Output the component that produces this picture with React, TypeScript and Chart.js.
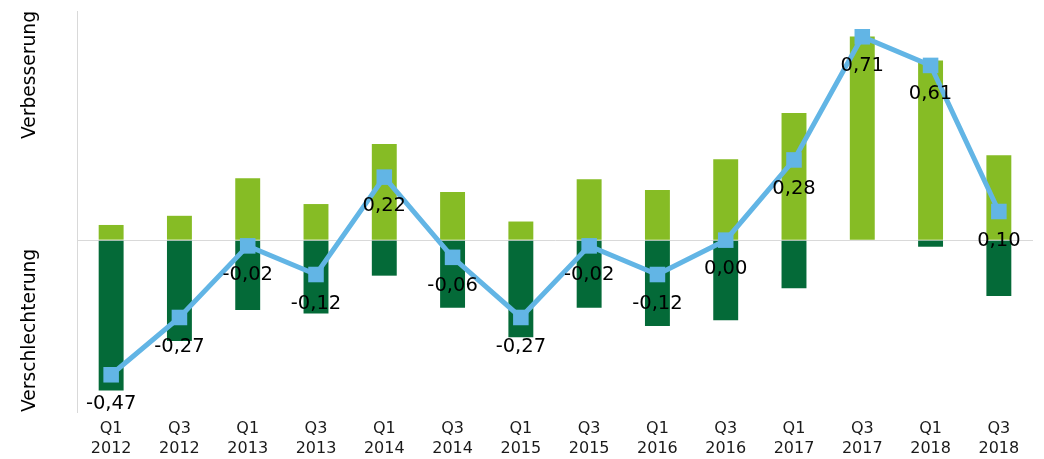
import React, { useEffect, useRef } from "react";
import { Chart, registerables } from "chart.js";

Chart.register(...registerables);

const quarters = ["Q1", "Q3", "Q1", "Q3", "Q1", "Q3", "Q1", "Q3", "Q1", "Q3", "Q1", "Q3", "Q1", "Q3"];
const years = ["2012", "2012", "2013", "2013", "2014", "2014", "2015", "2015", "2016", "2016", "2017", "2017", "2018", "2018"];
const improvement = [0.053, 0.085, 0.216, 0.126, 0.336, 0.168, 0.065, 0.213, 0.175, 0.282, 0.444, 0.711, 0.627, 0.296];
const deterioration = [-0.525, -0.352, -0.244, -0.256, -0.124, -0.236, -0.339, -0.236, -0.3, -0.28, -0.168, 0, -0.023, -0.195];
const netBalance = [-0.47, -0.27, -0.02, -0.12, 0.22, -0.06, -0.27, -0.02, -0.12, 0.0, 0.28, 0.71, 0.61, 0.1];
const axisTitleTop = "Verbesserung";
const axisTitleBottom = "Verschlechterung";

const FONT = "'DejaVu Sans', Verdana, sans-serif";

const overlayPlugin = {
  id: "overlay",
  afterDatasetsDraw(chart: any) {
    const ctx = chart.ctx;
    const meta = chart.getDatasetMeta(0);
    ctx.save();
    ctx.font = `19.5px ${FONT}`;
    ctx.fillStyle = "#000000";
    ctx.textAlign = "center";
    ctx.textBaseline = "middle";
    meta.data.forEach((pt: any, i: number) => {
      const v = netBalance[i];
      const txt = v.toFixed(2).replace(".", ",");
      ctx.fillText(txt, pt.x, pt.y + 29);
    });
    ctx.restore();
  },
  afterDraw(chart: any) {
    const ctx = chart.ctx;
    const area = chart.chartArea;
    const draw = (text: string, y: number, align: CanvasTextAlign) => {
      ctx.save();
      ctx.font = `18.7px ${FONT}`;
      ctx.fillStyle = "#000000";
      ctx.textBaseline = "middle";
      ctx.translate(30, y);
      ctx.rotate(-Math.PI / 2);
      ctx.textAlign = align;
      ctx.fillText(text, 0, 0);
      ctx.restore();
    };
    draw(axisTitleTop, area.top, "right");
    draw(axisTitleBottom, area.bottom, "left");
  },
};

export default function App() {
  const ref = useRef<HTMLCanvasElement>(null);
  useEffect(() => {
    document.body.style.margin = "0";
    const labels = quarters.map((q, i) => [q, years[i]]);
    const chart = new Chart(ref.current as HTMLCanvasElement, {
      type: "bar",
      data: {
        labels,
        datasets: [
          {
            type: "line",
            label: "Saldo",
            data: netBalance,
            borderColor: "#62B5E5",
            backgroundColor: "#62B5E5",
            borderWidth: 5,
            pointStyle: "rect",
            pointRadius: 11,
            pointBorderWidth: 0,
            stack: "line",
            order: 0,
            tension: 0,
          } as any,
          {
            type: "bar",
            label: "Verbesserung",
            data: improvement,
            backgroundColor: "#86BC25",
            stack: "bars",
            order: 1,
            barPercentage: 0.365,
            categoryPercentage: 1,
          },
          {
            type: "bar",
            label: "Verschlechterung",
            data: deterioration,
            backgroundColor: "#046A38",
            stack: "bars",
            order: 1,
            barPercentage: 0.365,
            categoryPercentage: 1,
          },
        ],
      },
      options: {
        animation: false,
        responsive: false,
        layout: { padding: { left: 77, top: 10, right: 8, bottom: 0 } },
        plugins: { legend: { display: false }, tooltip: { enabled: false } },
        scales: {
          x: {
            stacked: true,
            grid: { display: false, drawTicks: false },
            border: { display: false },
            afterFit: (scale: any) => {
              scale.height = 47;
            },
            ticks: {
              color: "#1a1a1a",
              font: { family: FONT, size: 16, lineHeight: 1.3 },
              padding: 6,
              maxRotation: 0,
              autoSkip: false,
            },
          },
          y: {
            stacked: true,
            min: -0.6,
            max: 0.8,
            ticks: { display: false, stepSize: 0.2 },
            grid: {
              drawTicks: false,
              color: (c: any) => (c.tick && Math.abs(c.tick.value) < 1e-9 ? "#d9d9d9" : "rgba(0,0,0,0)"),
              lineWidth: 1,
            },
            border: { display: true, color: "#d9d9d9", width: 1 },
          },
        },
      },
      plugins: [overlayPlugin],
    });
    return () => chart.destroy();
  }, []);
  return <canvas ref={ref} width={1044} height={459} style={{ display: "block" }} />;
}
